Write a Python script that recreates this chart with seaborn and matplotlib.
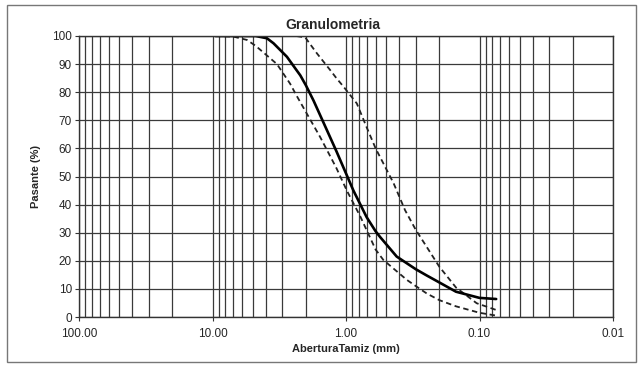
import numpy as np
import pandas as pd
import matplotlib
matplotlib.use("Agg")
import matplotlib.pyplot as plt
import seaborn as sns
from matplotlib.ticker import FixedLocator, LogLocator, NullFormatter, FuncFormatter
from matplotlib.patches import Rectangle

# Sieve opening (mm) and percent passing.
# Sample curve (solid):
muestra_mm = [9.5, 4.75, 3.91, 3.49, 2.77, 2.36, 2.2, 2.0, 1.75, 1.39, 1.18,
              0.88, 0.70, 0.6, 0.556, 0.417, 0.3, 0.249, 0.2, 0.15, 0.1, 0.075]
muestra_pct = [100, 100, 99.2, 97.4, 92.6, 88, 86, 82.5, 77, 66.5, 59,
               45, 35.5, 30.5, 28.5, 21.5, 17, 14.8, 12.3, 9, 6.8, 6.4]
# Upper limit (dashed, right):
sup_mm = [9.5, 4.75, 2.36, 2.02, 1.85, 1.65, 1.315, 1.18, 1.045, 0.83, 0.70,
          0.6, 0.44, 0.361, 0.3, 0.249, 0.2, 0.15, 0.105, 0.075]
sup_pct = [100, 100, 100, 99.5, 97, 93.8, 87.9, 85, 82, 76, 67.5,
           60, 47.6, 38, 31, 25, 17.9, 10.5, 4.9, 2.5]
# Lower limit (dashed, left):
inf_mm = [9.5, 7.0, 5.52, 4.75, 3.29, 2.62, 2.36, 1.56, 1.18, 0.986, 0.78,
          0.6, 0.525, 0.35, 0.3, 0.249, 0.2, 0.15, 0.1, 0.075]
inf_pct = [100, 99.8, 98.6, 96.5, 90, 83, 79, 64, 53, 45, 35.7,
           24, 20.3, 13.2, 11, 8.4, 6, 3.8, 1.5, 0.5]

x_ticks = [100, 10, 1, 0.1, 0.01]
y_ticks = list(range(0, 101, 10))

sns.set_style("white")
plt.rcParams['font.family'] = ['Liberation Sans', 'DejaVu Sans']

fig = plt.figure(figsize=(6.42, 3.71), dpi=100)
ax = fig.add_axes([79 / 642, 1 - 317 / 371, (613 - 79) / 642, (317 - 36) / 371])

# Outer chart border
fig.patches.append(Rectangle((7 / 642, 1 - 362 / 371), 629 / 642, 357 / 371,
                             transform=fig.transFigure, fill=False,
                             edgecolor='#777777', linewidth=1.0))

df_m = pd.DataFrame({'mm': muestra_mm, 'pct': muestra_pct})
df_s = pd.DataFrame({'mm': sup_mm, 'pct': sup_pct})
df_i = pd.DataFrame({'mm': inf_mm, 'pct': inf_pct})

sns.lineplot(data=df_s, x='mm', y='pct', ax=ax, sort=False, estimator=None,
             color='#222222', linewidth=1.3, linestyle=(0, (3, 2)))
sns.lineplot(data=df_i, x='mm', y='pct', ax=ax, sort=False, estimator=None,
             color='#222222', linewidth=1.3, linestyle=(0, (3, 2)))
sns.lineplot(data=df_m, x='mm', y='pct', ax=ax, sort=False, estimator=None,
             color='black', linewidth=1.9)

ax.set_xscale('log')
ax.set_xlim(100, 0.01)
ax.set_ylim(0, 100)
ax.xaxis.set_major_locator(FixedLocator(x_ticks))
ax.xaxis.set_major_formatter(FuncFormatter(lambda v, p: f"{v:.2f}"))
ax.xaxis.set_minor_locator(LogLocator(base=10, subs=np.arange(2, 10)))
ax.xaxis.set_minor_formatter(NullFormatter())
ax.set_yticks(y_ticks)

ax.grid(which='both', axis='x', color='#3a3a3a', linewidth=0.9)
ax.grid(which='major', axis='y', color='#3a3a3a', linewidth=0.9)
ax.set_axisbelow(True)
for s in ax.spines.values():
    s.set_color('#333333')
    s.set_linewidth(1.0)

ax.tick_params(axis='x', which='major', length=3, direction='out', bottom=True,
               labelsize=8.5, pad=5, color='#333333')
ax.tick_params(axis='x', which='minor', length=0)
ax.tick_params(axis='y', length=3, direction='out', left=True,
               labelsize=8.5, pad=2, color='#333333')

ax.set_title('Granulometria', fontsize=10, fontweight='bold', pad=5, x=0.476)
ax.set_xlabel('AberturaTamiz (mm)', fontsize=8, fontweight='bold', labelpad=3)
ax.set_ylabel('Pasante (%)', fontsize=8, fontweight='bold', labelpad=8)

fig.savefig('out.png', dpi=100)
